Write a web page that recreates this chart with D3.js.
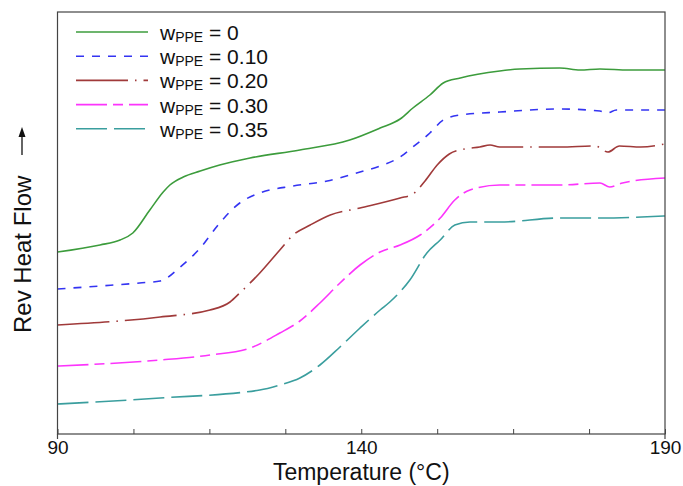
<!DOCTYPE html>
<html>
<head>
<meta charset="utf-8">
<script src="https://cdn.jsdelivr.net/npm/d3@7"></script>
<style>
  body { margin: 0; background: #fff; }
  svg text { font-family: "Liberation Sans", Arial, sans-serif; fill: #111; }
</style>
</head>
<body>
<svg id="chart" width="683" height="486"></svg>
<script>
// DATA: temperature (°C) and reversing heat flow (arbitrary units, curves offset)
const legendLabels = ["0", "0.10", "0.20", "0.30", "0.35"];
const xTicks = [90, 102.5, 115, 127.5, 140, 152.5, 165, 177.5, 190];
const xTickLabels = [90, 140, 190];

const tW0 = [90, 97, 100.3, 102.4, 105.2, 107.4, 108.5, 110.7, 113.5, 116.7, 121.7, 129.9, 138.1, 143.1, 146.4, 148.5, 151.3, 153.5, 156.3, 162.8, 166.1, 172.7, 176, 179.3, 184, 190];
const hfW0 = [18.2, 18.9, 19.4, 20.1, 22.4, 24.2, 24.9, 25.7, 26.3, 26.9, 27.6, 28.4, 29.4, 30.6, 31.5, 32.6, 33.9, 35.1, 35.6, 36.3, 36.5, 36.6, 36.4, 36.5, 36.4, 36.4];

const tW10 = [90, 97, 103.5, 106.9, 110.2, 113.5, 116.7, 120.0, 123.3, 128.8, 134.4, 139.8, 143.1, 146.4, 148.5, 151.3, 153.5, 156.3, 162.8, 172.7, 179.3, 180.5, 182, 190];
const hfW10 = [14.5, 14.8, 15.1, 15.3, 16.7, 18.6, 21.1, 23.1, 24.1, 24.8, 25.3, 26.2, 26.8, 27.7, 28.7, 30.1, 31.4, 31.9, 32.2, 32.5, 32.3, 32.1, 32.4, 32.4];

const tW20 = [90, 106.9, 115.1, 118.4, 120.0, 123.3, 126.6, 128.8, 131.6, 134.9, 139.8, 146.4, 148.5, 150.5, 152.5, 154.5, 157, 159.5, 161.2, 162.8, 166.1, 172.7, 178.5, 180.6, 182.5, 186, 190];
const hfW20 = [10.9, 11.7, 12.4, 13.2, 14.1, 16.1, 18.4, 19.9, 20.9, 21.9, 22.6, 23.6, 24.0, 25.3, 26.9, 28.0, 28.5, 28.7, 28.9, 28.7, 28.7, 28.7, 28.8, 28.2, 28.8, 28.7, 29.0];

const tW30 = [90, 106.9, 115.1, 121.7, 126.6, 129.9, 133.2, 136.5, 139.8, 143.1, 146.4, 149.7, 153.0, 155.4, 157.9, 162.8, 172.7, 179.3, 180.9, 183, 190];
const hfW30 = [6.8, 7.4, 7.9, 8.6, 10.1, 11.3, 13.1, 15.1, 16.9, 18.2, 18.9, 19.9, 21.6, 23.4, 24.4, 24.9, 24.9, 25.1, 24.7, 25.1, 25.6];

const tW35 = [90, 106.9, 123.3, 126.6, 129.9, 133.2, 136.5, 139.8, 143.1, 144.7, 148.0, 150.8, 153.0, 155.4, 157.9, 162.8, 172.7, 179.3, 190];
const hfW35 = [3.0, 3.6, 4.4, 4.9, 5.6, 6.9, 8.7, 10.6, 12.4, 13.2, 15.4, 18.1, 19.4, 20.9, 21.2, 21.2, 21.6, 21.6, 21.8];

const seriesT = [tW0, tW10, tW20, tW30, tW35];
const seriesHF = [hfW0, hfW10, hfW20, hfW30, hfW35];
const colors = ["#3c9c3c", "#3434f2", "#a03a3a", "#fc34fc", "#3a9e9e"];
const dashes = ["none", "8,8", "52,7,1.5,7", "31,6,10,6", "31,7"];

// SETUP
const margin = { top: 12, right: 18, bottom: 52, left: 57.5 },
    width = 683 - margin.left - margin.right,
    height = 486 - margin.top - margin.bottom;

const svg = d3.select("#chart")
    .append("g")
    .attr("transform", `translate(${margin.left},${margin.top})`);

const x = d3.scaleLinear().domain([90, 190]).range([0, width]);
const y = d3.scaleLinear().domain([0, 42.2]).range([height, 0]);

const line = d3.line()
    .x(d => x(d[0]))
    .y(d => y(d[1]))
    .curve(d3.curveMonotoneX);

// CURVES
seriesT.forEach((ts, i) => {
    svg.append("path")
        .datum(ts.map((t, j) => [t, seriesHF[i][j]]))
        .attr("d", line)
        .attr("fill", "none")
        .attr("stroke", colors[i])
        .attr("stroke-width", 1.6)
        .attr("stroke-dasharray", dashes[i]);
});

// FRAME
svg.append("rect")
    .attr("width", width)
    .attr("height", height)
    .attr("fill", "none")
    .attr("stroke", "#444")
    .attr("stroke-width", 1.2);

// side lines poke below the axis
[0, width].forEach(px => {
    svg.append("line")
        .attr("x1", px).attr("x2", px)
        .attr("y1", height).attr("y2", height + 5)
        .attr("stroke", "#444")
        .attr("stroke-width", 1.2);
});

// X AXIS
const xAxis = svg.append("g")
    .attr("transform", `translate(0,${height})`)
    .call(d3.axisBottom(x)
        .tickValues(xTicks)
        .tickSize(-5)
        .tickPadding(7)
        .tickFormat(d => xTickLabels.includes(d) ? d : ""));
xAxis.select(".domain").remove();
xAxis.selectAll(".tick line").attr("stroke", "#444");
xAxis.selectAll(".tick text")
    .attr("font-size", 19)
    .attr("font-family", "Liberation Sans, Arial, sans-serif")
    .attr("fill", "#111");

// LABELS
svg.append("text")
    .attr("x", width / 2)
    .attr("y", height + 46)
    .attr("text-anchor", "middle")
    .attr("font-size", 23)
    .text("Temperature (°C)");

const yLab = d3.select("#chart").append("g")
    .attr("transform", "translate(31,333) rotate(-90)");
yLab.append("text")
    .attr("font-size", 24)
    .text("Rev Heat Flow");
yLab.append("line")
    .attr("x1", 178).attr("x2", 198)
    .attr("y1", -9).attr("y2", -9)
    .attr("stroke", "#111").attr("stroke-width", 1.3);
yLab.append("path")
    .attr("d", "M206,-9 L196,-12.5 L196,-5.5 Z")
    .attr("fill", "#111");

// LEGEND
const legend = d3.select("#chart").append("g");
legendLabels.forEach((lab, i) => {
    const ly = 32 + i * 24.2;
    legend.append("line")
        .attr("x1", 76).attr("x2", 148)
        .attr("y1", ly).attr("y2", ly)
        .attr("stroke", colors[i])
        .attr("stroke-width", 1.6)
        .attr("stroke-dasharray", dashes[i]);
    const t = legend.append("text")
        .attr("x", 160)
        .attr("y", ly + 8)
        .attr("font-size", 21);
    t.append("tspan").text("w");
    t.append("tspan").attr("font-size", 14).attr("dy", 2).text("PPE");
    t.append("tspan").attr("dy", -2).text(" = " + lab);
});
</script>
</body>
</html>
